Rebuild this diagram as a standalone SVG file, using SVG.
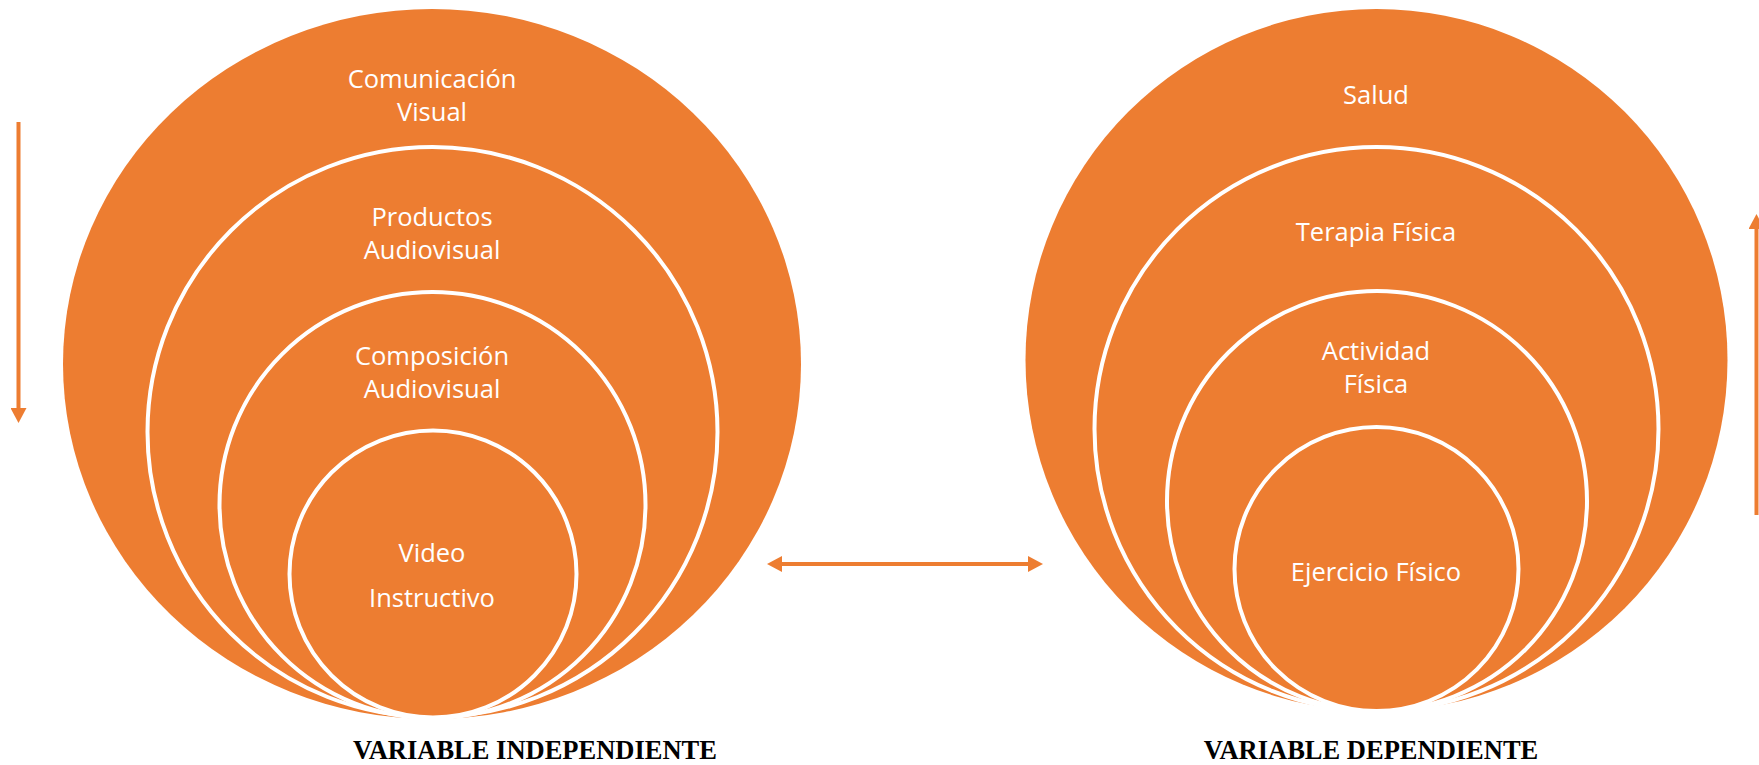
<svg xmlns="http://www.w3.org/2000/svg" width="1759" height="765" viewBox="0 0 1759 765">
<style>
.c{fill:#ED7D31;stroke:#FFFFFF;stroke-width:4}
.o{fill:#ED7D31}
.t{font-family:"Open Sans","Liberation Sans",sans-serif;font-size:25.5px;fill:#FFFFFF;text-anchor:middle}
.lab{font-family:"Liberation Serif","Times New Roman",serif;font-size:26.5px;font-weight:bold;fill:#000000;text-anchor:middle}
.a{stroke:#ED7D31;stroke-width:4;fill:none}
</style>
<defs>
<marker id="ah" viewBox="0 -8 15 16" refX="0" refY="0" markerWidth="15" markerHeight="16" markerUnits="userSpaceOnUse" orient="auto-start-reverse">
<path d="M0,-8 L15,0 L0,8 z" fill="#ED7D31"/>
</marker>
</defs>
<rect width="1759" height="765" fill="#FFFFFF"/>
<g id="left">
<g id="comunicacion-visual"><ellipse class="o" cx="432" cy="364" rx="369" ry="355"/><text class="t" x="432" y="88">Comunicación</text><text class="t" x="432" y="121">Visual</text></g>
<g id="productos-audiovisual"><circle class="c" cx="432.5" cy="432" r="285"/><text class="t" x="432" y="226">Productos</text><text class="t" x="432" y="259">Audiovisual</text></g>
<g id="composicion-audiovisual"><circle class="c" cx="432.5" cy="505" r="213"/><text class="t" x="432" y="365">Composición</text><text class="t" x="432" y="398">Audiovisual</text></g>
<g id="video-instructivo"><circle class="c" cx="433" cy="574" r="143.5"/><text class="t" x="432" y="562">Video</text><text class="t" x="432" y="607">Instructivo</text></g>
</g>
<g id="right">
<g id="salud"><circle class="o" cx="1376.5" cy="360" r="351"/><text class="t" x="1376" y="104">Salud</text></g>
<g id="terapia-fisica"><circle class="c" cx="1376.5" cy="429" r="282"/><text class="t" x="1376" y="241">Terapia Física</text></g>
<g id="actividad-fisica"><circle class="c" cx="1377" cy="501" r="210"/><text class="t" x="1376" y="360">Actividad</text><text class="t" x="1376" y="393">Física</text></g>
<g id="ejercicio-fisico"><circle class="c" cx="1376.5" cy="569" r="142"/><text class="t" x="1376" y="581">Ejercicio Físico</text></g>
</g>
<g id="connectors">
<line class="a" x1="18.5" y1="122" x2="18.5" y2="408" marker-end="url(#ah)"/>
<line class="a" x1="1756.5" y1="515" x2="1756.5" y2="229" marker-end="url(#ah)"/>
<line class="a" x1="782" y1="564" x2="1028" y2="564" marker-start="url(#ah)" marker-end="url(#ah)"/>
</g>
<g id="labels">
<text class="lab" x="535" y="759">VARIABLE INDEPENDIENTE</text>
<text class="lab" x="1371" y="759">VARIABLE DEPENDIENTE</text>
</g>
</svg>
